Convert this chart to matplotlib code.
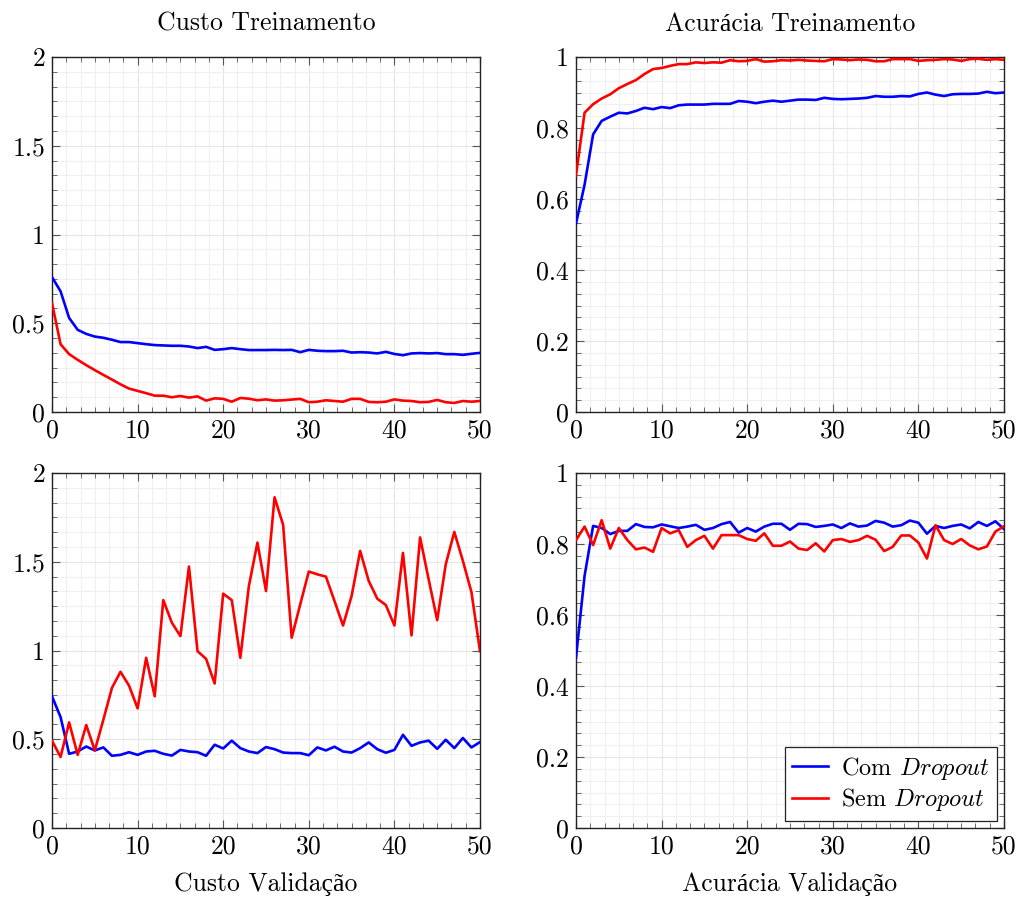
import matplotlib
matplotlib.use("Agg")
import matplotlib.pyplot as plt
from matplotlib.ticker import MultipleLocator, FuncFormatter, AutoMinorLocator

plt.rcParams['font.family'] = ['cmr10', 'Liberation Serif']
plt.rcParams['mathtext.fontset'] = 'cm'
plt.rcParams['axes.formatter.use_mathtext'] = True

epochs = list(range(51))

train_loss_dropout = [0.76, 0.68, 0.53, 0.463, 0.44, 0.425, 0.418, 0.407, 0.394, 0.394,
                      0.388, 0.382, 0.377, 0.375, 0.373, 0.373, 0.369, 0.36, 0.367, 0.35,
                      0.354, 0.36, 0.354, 0.349, 0.349, 0.349, 0.35, 0.349, 0.35, 0.337,
                      0.35, 0.345, 0.343, 0.343, 0.345, 0.335, 0.337, 0.335, 0.33, 0.339,
                      0.327, 0.32, 0.33, 0.332, 0.33, 0.332, 0.326, 0.326, 0.322, 0.328, 0.333]
train_loss_no_dropout = [0.614, 0.382, 0.326, 0.294, 0.264, 0.236, 0.209, 0.183, 0.156, 0.132,
                         0.119, 0.106, 0.092, 0.092, 0.083, 0.09, 0.081, 0.088, 0.064, 0.077,
                         0.074, 0.058, 0.079, 0.075, 0.066, 0.071, 0.064, 0.066, 0.07, 0.074,
                         0.055, 0.058, 0.066, 0.062, 0.058, 0.074, 0.074, 0.057, 0.055, 0.058,
                         0.071, 0.064, 0.062, 0.055, 0.057, 0.068, 0.055, 0.051, 0.062, 0.058, 0.062]

train_acc_dropout = [0.531, 0.64, 0.782, 0.82, 0.832, 0.843, 0.841, 0.848, 0.857, 0.853,
                     0.859, 0.856, 0.864, 0.866, 0.866, 0.866, 0.868, 0.868, 0.868, 0.876,
                     0.874, 0.87, 0.874, 0.877, 0.874, 0.877, 0.88, 0.88, 0.879, 0.885,
                     0.882, 0.881, 0.882, 0.883, 0.885, 0.89, 0.888, 0.888, 0.89, 0.889,
                     0.896, 0.9, 0.894, 0.89, 0.895, 0.896, 0.896, 0.897, 0.902, 0.898, 0.9]
train_acc_no_dropout = [0.667, 0.843, 0.867, 0.883, 0.895, 0.912, 0.924, 0.935, 0.952, 0.966,
                        0.969, 0.975, 0.98, 0.98, 0.985, 0.983, 0.985, 0.984, 0.991, 0.988,
                        0.989, 0.994, 0.987, 0.988, 0.991, 0.99, 0.992, 0.99, 0.989, 0.988,
                        0.994, 0.993, 0.991, 0.993, 0.992, 0.988, 0.988, 0.994, 0.994, 0.994,
                        0.989, 0.991, 0.992, 0.994, 0.993, 0.989, 0.994, 0.995, 0.992, 0.994, 0.992]

val_loss_dropout = [0.742, 0.625, 0.418, 0.431, 0.459, 0.437, 0.454, 0.407, 0.412, 0.427,
                    0.412, 0.431, 0.435, 0.418, 0.408, 0.44, 0.431, 0.427, 0.407, 0.469,
                    0.448, 0.492, 0.45, 0.431, 0.422, 0.456, 0.444, 0.425, 0.422, 0.422,
                    0.41, 0.454, 0.437, 0.458, 0.431, 0.425, 0.45, 0.482, 0.444, 0.424,
                    0.44, 0.525, 0.463, 0.482, 0.492, 0.446, 0.497, 0.45, 0.507, 0.454, 0.484]
val_loss_no_dropout = [0.492, 0.4, 0.595, 0.412, 0.58, 0.437, 0.61, 0.789, 0.88, 0.802,
                       0.674, 0.959, 0.742, 1.284, 1.157, 1.081, 1.473, 0.996, 0.953, 0.814,
                       1.32, 1.284, 0.959, 1.363, 1.608, 1.335, 1.863, 1.708, 1.072, 1.26,
                       1.445, 1.429, 1.416, 1.279, 1.141, 1.307, 1.561, 1.392, 1.292, 1.256,
                       1.141, 1.55, 1.085, 1.637, 1.401, 1.171, 1.486, 1.668, 1.505, 1.329, 0.996]

val_acc_dropout = [0.48, 0.71, 0.851, 0.845, 0.828, 0.837, 0.837, 0.856, 0.848, 0.847,
                   0.855, 0.85, 0.845, 0.849, 0.854, 0.84, 0.845, 0.856, 0.862, 0.832,
                   0.845, 0.835, 0.849, 0.857, 0.857, 0.84, 0.857, 0.856, 0.848, 0.851,
                   0.855, 0.845, 0.858, 0.849, 0.852, 0.865, 0.86, 0.849, 0.853, 0.866,
                   0.86, 0.829, 0.851, 0.845, 0.851, 0.855, 0.844, 0.862, 0.851, 0.864, 0.842]
val_acc_no_dropout = [0.811, 0.849, 0.797, 0.867, 0.787, 0.845, 0.811, 0.785, 0.79, 0.778,
                      0.845, 0.83, 0.839, 0.792, 0.811, 0.823, 0.787, 0.825, 0.825, 0.825,
                      0.814, 0.809, 0.83, 0.795, 0.795, 0.807, 0.787, 0.783, 0.802, 0.779,
                      0.811, 0.814, 0.806, 0.811, 0.823, 0.812, 0.78, 0.792, 0.824, 0.824,
                      0.804, 0.759, 0.853, 0.811, 0.8, 0.814, 0.796, 0.785, 0.793, 0.835, 0.85]

titles = ['Custo Treinamento', 'Acurácia Treinamento', 'Custo Validação', 'Acurácia Validação']
legend_labels = [r'Com $\mathit{Dropout}$', r'Sem $\mathit{Dropout}$']

FS = 18.5
fig = plt.figure(figsize=(10.21, 9.0), dpi=100)
W, H = 1021, 900
boxes = [(52, 57), (576, 57), (52, 473), (576, 473)]
aw, ah = 428, 355

panels = [
    (train_loss_dropout, train_loss_no_dropout, 2.0, 0.5),
    (train_acc_dropout, train_acc_no_dropout, 1.0, 0.2),
    (val_loss_dropout, val_loss_no_dropout, 2.0, 0.5),
    (val_acc_dropout, val_acc_no_dropout, 1.0, 0.2),
]

fmt = FuncFormatter(lambda v, p: ('%g' % round(v, 3)))

for i, ((x0, y0), (d1, d2, ymax, ystep)) in enumerate(zip(boxes, panels)):
    ax = fig.add_axes([x0 / W, 1 - (y0 + ah) / H, aw / W, ah / H])
    ax.plot(epochs, d1, color='#0000ff', lw=1.9, label=legend_labels[0], zorder=3)
    ax.plot(epochs, d2, color='#ff0000', lw=1.9, label=legend_labels[1], zorder=3)
    ax.set_xlim(0, 50)
    ax.set_ylim(0, ymax)
    ax.xaxis.set_major_locator(MultipleLocator(10))
    ax.xaxis.set_minor_locator(AutoMinorLocator(6))
    ax.yaxis.set_major_locator(MultipleLocator(ystep))
    ax.yaxis.set_minor_locator(AutoMinorLocator(6))
    ax.xaxis.set_major_formatter(fmt)
    ax.yaxis.set_major_formatter(fmt)
    ax.grid(which='major', color='#e6e6e6', lw=0.8, zorder=0)
    ax.grid(which='minor', color='#f0f0f0', lw=0.8, zorder=0)
    ax.set_axisbelow(True)
    ax.tick_params(which='both', direction='in', top=True, right=True,
                   color='#555555', labelsize=FS, pad=5)
    ax.tick_params(which='major', length=6, width=0.8)
    ax.tick_params(which='minor', length=3.5, width=0.6)
    for s in ax.spines.values():
        s.set_color('#222222')
        s.set_linewidth(1.0)
    if i < 2:
        ax.set_title(titles[i], fontsize=FS, pad=19)
    else:
        ax.set_xlabel(titles[i], fontsize=FS, labelpad=10)
    if i == 3:
        leg = ax.legend(loc='lower right', fontsize=FS - 1, frameon=True, fancybox=False,
                        framealpha=1, edgecolor='#222222', handlelength=1.5,
                        borderaxespad=0.3, labelspacing=0.2, borderpad=0.3,
                        handletextpad=0.5)
        leg.get_frame().set_linewidth(0.9)

fig.savefig('out.png', dpi=100)
